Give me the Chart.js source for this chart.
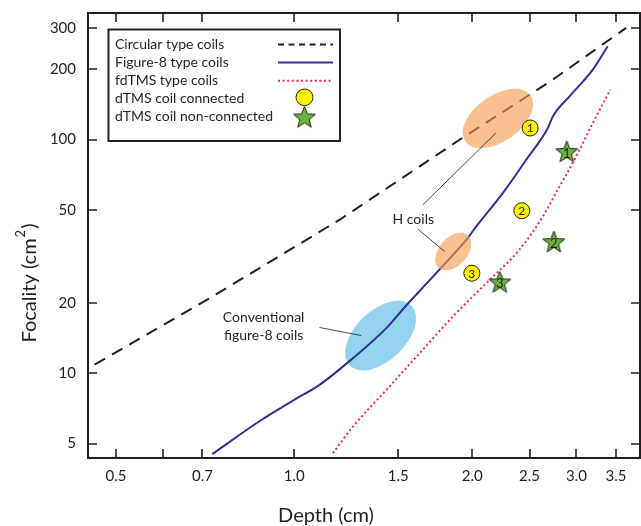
<!DOCTYPE html>
<html>
<head>
  <title>Focality vs depth</title>
  <script src="https://cdn.jsdelivr.net/npm/chart.js"></script>
  <style>
    body { margin: 0; background: #fff; }
    canvas { display: block; }
  </style>
</head>
<body>
  <canvas id="focalityChart" width="641" height="526"></canvas>
  <script>
    // values: depth in cm, focality in cm^2
    const circularDepth = [0.46, 0.72, 1.194, 1.904, 2.702, 3.641];
    const circularFocality = [10.9, 20.96, 45.4, 99.8, 176.4, 300.4];

    const fig8Depth = [0.727, 0.88, 1.0, 1.104, 1.257, 1.432, 1.547, 1.63, 1.761, 1.954, 2.032, 2.253, 2.468, 2.685, 2.737, 2.921, 3.198, 3.389];
    const fig8Focality = [4.51, 6.31, 7.69, 8.92, 11.6, 15.6, 19.5, 22.5, 27.8, 37.2, 42.5, 59.0, 82.0, 112.1, 125.6, 153.0, 199.1, 250.6];

    const fdtmsDepth = [1.163, 1.257, 1.432, 1.63, 1.855, 2.112, 2.404, 2.633, 2.81, 2.998, 3.198, 3.425];
    const fdtmsFocality = [4.55, 5.91, 8.49, 12.19, 17.48, 24.3, 33.8, 46.9, 63.0, 84.7, 117.7, 163.5];

    const connectedDepth = [2.506, 2.426, 1.997];
    const connectedFocality = [112.1, 49.6, 26.8];
    const connectedNames = ['1', '2', '3'];

    const nonConnDepth = [2.89, 2.748, 2.227];
    const nonConnFocality = [89.0, 36.6, 24.6];
    const nonConnNames = ['1', '2', '3'];

    const xTicks = [0.5, 0.6, 0.7, 1.0, 1.5, 2.0, 2.5, 3.0, 3.5];
    const xTickLabels = ['0.5', '', '0.7', '1.0', '1.5', '2.0', '2.5', '3.0', '3.5'];
    const yTicks = [5, 10, 20, 50, 100, 200, 300];
    const yTickLabels = ['5', '10', '20', '50', '100', '200', '300'];

    const ink = '#231f20';
    const font = 'Lato';
    Chart.defaults.font.family = font;
    Chart.defaults.color = ink;

    // shaded regions and callouts, placed in data coordinates
    const blueRegion = { x: 1.40, y: 14.5, rx: 43, ry: 25, angle: 44 };
    const orangeRegions = [
      { x: 2.21, y: 123.1, rx: 40, ry: 23, angle: 35 },
      { x: 1.858, y: 33.2, rx: 22, ry: 14, angle: 48 }
    ];
    const leaders = [
      [[1.651, 52.6], [2.193, 106.7]],
      [[1.619, 41.4], [1.796, 33.2]],
      [[1.104, 15.7], [1.299, 14.5]]
    ];
    const notes = [
      { x: 1.59, y: 45.6, lines: ['H coils'] },
      { x: 0.888, y: 15.85, lines: ['Conventional', 'figure-8 coils'] }
    ];

    function pts(xs, ys) {
      return xs.map((x, i) => ({ x: x, y: ys[i] }));
    }

    function makeStar(R, r) {
      const c = document.createElement('canvas');
      c.width = c.height = Math.ceil(2 * R + 4);
      const g = c.getContext('2d');
      const cx = c.width / 2, cy = c.height / 2 + 1;
      g.beginPath();
      for (let k = 0; k < 10; k++) {
        const rad = k % 2 ? r : R;
        const a = -Math.PI / 2 + k * Math.PI / 5;
        g.lineTo(cx + rad * Math.cos(a), cy + rad * Math.sin(a));
      }
      g.closePath();
      g.fillStyle = '#6db33f';
      g.fill();
      g.lineWidth = 1;
      g.strokeStyle = ink;
      g.stroke();
      return c;
    }
    const starImg = makeStar(11.5, 4.9);

    function ellipse(ctx, chart, e, color) {
      const cx = chart.scales.x.getPixelForValue(e.x);
      const cy = chart.scales.y.getPixelForValue(e.y);
      ctx.beginPath();
      ctx.ellipse(cx, cy, e.rx, e.ry, -e.angle * Math.PI / 180, 0, 2 * Math.PI);
      ctx.fillStyle = color;
      ctx.fill();
    }

    let orangeDone = false;
    const decor = {
      id: 'decor',
      beforeDatasetsDraw(chart) {
        orangeDone = false;
        const ctx = chart.ctx;
        ctx.save();
        ellipse(ctx, chart, blueRegion, '#93d3ef');
        ctx.restore();
      },
      beforeDatasetDraw(chart, args) {
        const ds = chart.data.datasets[args.index];
        if (ds.markerNames && !orangeDone) {
          orangeDone = true;
          const ctx = chart.ctx;
          ctx.save();
          orangeRegions.forEach(e => ellipse(ctx, chart, e, 'rgba(245,155,75,0.62)'));
          ctx.restore();
        }
      },
      afterDatasetsDraw(chart) {
        const ctx = chart.ctx;
        const xs = chart.scales.x, ys = chart.scales.y;
        ctx.save();
        // numbers inside the markers
        ctx.fillStyle = ink;
        ctx.textAlign = 'center';
        ctx.textBaseline = 'middle';
        chart.data.datasets.forEach((ds, i) => {
          if (!ds.markerNames) return;
          const round = ds.pointStyle === 'circle';
          ctx.font = (round ? 12 : 13) + 'px ' + font;
          chart.getDatasetMeta(i).data.forEach((p, j) => {
            ctx.fillText(ds.markerNames[j], p.x, p.y + (round ? 0.5 : 2));
          });
        });
        // callout lines and text
        ctx.strokeStyle = ink;
        ctx.lineWidth = 0.8;
        leaders.forEach(l => {
          ctx.beginPath();
          ctx.moveTo(xs.getPixelForValue(l[0][0]), ys.getPixelForValue(l[0][1]));
          ctx.lineTo(xs.getPixelForValue(l[1][0]), ys.getPixelForValue(l[1][1]));
          ctx.stroke();
        });
        ctx.font = '14px ' + font;
        notes.forEach(n => {
          const px = xs.getPixelForValue(n.x), py = ys.getPixelForValue(n.y);
          n.lines.forEach((t, k) => {
            ctx.fillText(t, px, py + (k - (n.lines.length - 1) / 2) * 18);
          });
        });
        ctx.restore();
      },
      afterDraw(chart) {
        const ctx = chart.ctx;
        const a = chart.chartArea;
        const xs = chart.scales.x, ys = chart.scales.y;
        ctx.save();
        // frame and inward ticks
        ctx.strokeStyle = ink;
        ctx.lineWidth = 2;
        ctx.strokeRect(a.left, a.top, a.right - a.left, a.bottom - a.top);
        ctx.lineWidth = 1.6;
        ctx.beginPath();
        xTicks.forEach(v => {
          const px = Math.round(xs.getPixelForValue(v));
          ctx.moveTo(px, a.bottom); ctx.lineTo(px, a.bottom - 9);
          ctx.moveTo(px, a.top); ctx.lineTo(px, a.top + 9);
        });
        yTicks.forEach(v => {
          const py = Math.round(ys.getPixelForValue(v));
          ctx.moveTo(a.left, py); ctx.lineTo(a.left + 9, py);
          ctx.moveTo(a.right, py); ctx.lineTo(a.right - 9, py);
        });
        ctx.stroke();

        // legend
        ctx.lineWidth = 2;
        ctx.strokeRect(108.5, 29.5, 231.5, 111.5);
        ctx.font = '14px ' + font;
        ctx.fillStyle = ink;
        ctx.textAlign = 'left';
        ctx.textBaseline = 'middle';
        chart.data.datasets.forEach((ds, i) => {
          const y = 44.5 + i * 18.1;
          ctx.fillText(ds.label, 115, y);
          if (ds.showLine) {
            ctx.save();
            ctx.strokeStyle = ds.borderColor;
            ctx.lineWidth = ds.borderWidth;
            ctx.setLineDash(ds.legendDash || []);
            ctx.beginPath();
            ctx.moveTo(278, y);
            ctx.lineTo(333, y);
            ctx.stroke();
            ctx.restore();
          } else if (ds.pointStyle === 'circle') {
            ctx.save();
            ctx.beginPath();
            ctx.ellipse(304.5, y - 1.5, 8.5, 8.3, 0, 0, 2 * Math.PI);
            ctx.fillStyle = ds.backgroundColor;
            ctx.fill();
            ctx.lineWidth = 1;
            ctx.strokeStyle = ds.borderColor;
            ctx.stroke();
            ctx.restore();
          } else {
            ctx.drawImage(starImg, 304.5 - starImg.width / 2, y - starImg.height / 2);
          }
        });

        // axis titles
        ctx.textBaseline = 'alphabetic';
        ctx.textAlign = 'center';
        ctx.font = '20px ' + font;
        ctx.fillText('Depth (cm)', 326, 522);

        ctx.translate(36, 283);
        ctx.rotate(-Math.PI / 2);
        ctx.textAlign = 'left';
        const main = 'Focality (cm', sup = '2', close = ')';
        const wMain = ctx.measureText(main).width;
        const wClose = ctx.measureText(close).width;
        ctx.font = '13px ' + font;
        const wSup = ctx.measureText(sup).width;
        let x = -(wMain + wSup + wClose + 2) / 2;
        ctx.font = '20px ' + font;
        ctx.fillText(main, x, 0);
        x += wMain + 1;
        ctx.font = '13px ' + font;
        ctx.fillText(sup, x, -11);
        x += wSup + 1;
        ctx.font = '20px ' + font;
        ctx.fillText(close, x, 0);
        ctx.restore();
      }
    };

    new Chart(document.getElementById('focalityChart'), {
      type: 'scatter',
      data: {
        datasets: [
          {
            label: 'Circular type coils',
            data: pts(circularDepth, circularFocality),
            showLine: true,
            borderColor: ink,
            borderWidth: 2,
            borderDash: [12, 8],
            legendDash: [6, 4.5],
            pointRadius: 0,
            order: 1
          },
          {
            label: 'Figure-8 type coils',
            data: pts(fig8Depth, fig8Focality),
            showLine: true,
            borderColor: '#2e3192',
            borderWidth: 2,
            cubicInterpolationMode: 'monotone',
            pointRadius: 0,
            order: 1
          },
          {
            label: 'fdTMS type coils',
            data: pts(fdtmsDepth, fdtmsFocality),
            showLine: true,
            borderColor: '#ec2a4e',
            borderWidth: 2,
            borderDash: [2, 2.6],
            legendDash: [2, 2.6],
            cubicInterpolationMode: 'monotone',
            pointRadius: 0,
            order: 1
          },
          {
            label: 'dTMS coil connected',
            data: pts(connectedDepth, connectedFocality),
            markerNames: connectedNames,
            pointStyle: 'circle',
            pointRadius: 8,
            backgroundColor: '#fff200',
            borderColor: ink,
            borderWidth: 1,
            order: 0
          },
          {
            label: 'dTMS coil non-connected',
            data: pts(nonConnDepth, nonConnFocality),
            markerNames: nonConnNames,
            pointStyle: starImg,
            order: 0
          }
        ]
      },
      options: {
        responsive: false,
        animation: false,
        events: [],
        layout: { autoPadding: false, padding: { top: 13, right: 1, left: 0, bottom: 0 } },
        plugins: { legend: { display: false }, tooltip: { enabled: false } },
        scales: {
          x: {
            type: 'logarithmic',
            min: 0.4483,
            max: 3.843,
            grid: { display: false, drawTicks: false },
            border: { display: false },
            afterBuildTicks: s => { s.ticks = xTicks.map(v => ({ value: v })); },
            afterFit: s => { s.height = 68; s.paddingLeft = 0; s.paddingRight = 0; },
            ticks: {
              autoSkip: false,
              maxRotation: 0,
              padding: 9,
              font: { size: 15 },
              callback: (v, i) => xTickLabels[i]
            }
          },
          y: {
            type: 'logarithmic',
            min: 4.34,
            max: 348,
            grid: { display: false, drawTicks: false },
            border: { display: false },
            afterBuildTicks: s => { s.ticks = yTicks.map(v => ({ value: v })); },
            afterFit: s => { s.width = 88; s.paddingTop = 0; s.paddingBottom = 0; },
            ticks: {
              autoSkip: false,
              padding: 12,
              font: { size: 15 },
              callback: (v, i) => yTickLabels[i]
            }
          }
        }
      },
      plugins: [decor]
    });
  </script>
</body>
</html>
